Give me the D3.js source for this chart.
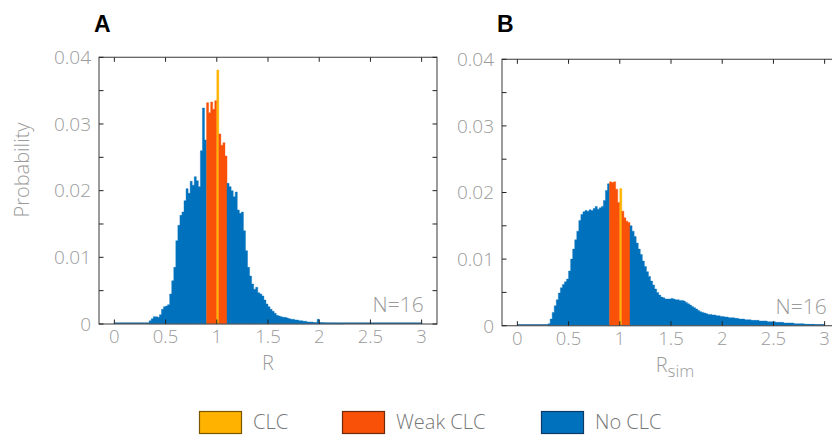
<!DOCTYPE html>
<html><head><meta charset="utf-8">
<script src="https://cdn.jsdelivr.net/npm/d3@7"></script>
<style>body{margin:0;background:#fff} svg{display:block}</style>
</head><body><svg id="c" width="832" height="435"></svg>
<script>
// ---------- data ----------
const binWidth = 0.02;
const startA = 0.34;
const probA = [
 .0005,.0008,.0011,.0011,.0010,.0014,.0022,.0026,.0027,.0029,
 .0045,.0065,.0085,.0125,.0148,.0163,.0168,.0185,.0203,.0196,
 .0214,.0208,.0221,.0215,.0206,.0260,.0324,.0276,.0332,.0317,
 .0333,.0322,.0335,.0381,.0285,.0268,.0272,.0252,.0211,.0206,
 .0200,.0191,.0198,.0171,.0166,.0168,.0140,.0110,.0085,.0072,
 .0060,.0052,.0055,.0047,.0045,.0042,.0036,.0030,.0026,.0022,
 .0019,.0016,.0013,.0012,.0011,.0010,.0010,.0009,.0008,.0007,
 .0007,.0006,.0006,.0005,.0005,.0004,.0004,.0003,.0003,.0003,
 .0002,.0002,.0007,.0002,.0002,.00015,.00015,.0001,.0001,.0001,
 .0001,.00008,.00008,.00005,.00005
];
const startB = 0.30;
const probB = [
 .0003,.0010,.0020,.0030,.0039,.0049,.0057,.0062,.0066,.0070,
 .0082,.0100,.0115,.0129,.0142,.0158,.0167,.0171,.0173,.0172,
 .0174,.0173,.0176,.0179,.0175,.0177,.0179,.0188,.0203,.0213,
 .0216,.0215,.0216,.0205,.0185,.0206,.0172,.0162,.0157,.0155,
 .0150,.0142,.0134,.0124,.0115,.0107,.0097,.0089,.0081,.0074,
 .0067,.0061,.0055,.0050,.0046,.0043,.0042,.0040,.0040,.0040,
 .0041,.0040,.0039,.0039,.0038,.0038,.0037,.0035,.0033,.0031,
 .0029,.0027,.0025,.0023,.0021,.0020,.0019,.0018,.0017,.0017,
 .0016,.0016,.0015,.0015,.0014,.0014,.0013,.0013,.0012,.0012,
 .0012,.0011,.0011,.0010,.0010,.0010,.0009,.0009,.0009,.0008,
 .0008,.0008,.0008,.0007,.0007,.0007,.0007,.0006,.0006,.0006,
 .0006,.0005,.0005,.0005,.0005,.0004,.0004,.0004,.0004,.0004,
 .0003,.0003,.0003,.0003,.0003,.0002,.0002,.0002,.0002,.0002,
 .0001,.0001,.0001,.0001,.0001
];
const weakRange = [0.90, 1.10];
const clcRange = [1.00, 1.02];
const categories = ["CLC", "Weak CLC", "No CLC"];
const colors = ["#FFB300", "#F95108", "#0072BD"];
const borders = ["#7a5600", "#6e2a0c", "#0d3a66"];
const xTicks = [0, 0.5, 1, 1.5, 2, 2.5, 3];
const xTickLabels = ["0", "0.5", "1", "1.5", "2", "2.5", "3"];
const yMinorTicks = [0, 0.005, 0.01, 0.015, 0.02, 0.025, 0.03, 0.035, 0.04];
const yTicks = [0, 0.01, 0.02, 0.03, 0.04];
const yTickLabels = ["0", "0.01", "0.02", "0.03", "0.04"];
const nLabel = "N=16";

// ---------- drawing ----------
const svg = d3.select("#c");
const FONT = "'Open Sans', Lato, 'Liberation Sans', sans-serif";
const GREY = "#9a9a9a";

function category(mid) {
  if (mid >= clcRange[0] && mid < clcRange[1]) return 0;
  if (mid >= weakRange[0] && mid < weakRange[1]) return 1;
  return 2;
}

function panel(opt) {
  const x = d3.scaleLinear().domain([-0.15, 3.15]).range([opt.left, opt.left + 338]);
  const y = d3.scaleLinear().domain([0, 0.04]).range([opt.bottom, opt.top]);
  const g = svg.append("g");
  const bins = opt.probs.map((p, i) => {
    const x0 = opt.start + i * binWidth;
    return {x0, x1: x0 + binWidth, p, c: category(x0 + binWidth / 2)};
  });
  const runs = [];
  bins.forEach(b => {
    const last = runs[runs.length - 1];
    if (last && last.c === b.c) last.bins.push(b); else runs.push({c: b.c, bins: [b]});
  });
  g.append("line").attr("x1", x(0)).attr("x2", x(3)).attr("y1", y(0) - 0.7).attr("y2", y(0) - 0.7)
    .attr("stroke", "#0a5d99").attr("stroke-width", 1.5);
  const area = d3.area().x(d => x(d[0])).y0(y(0)).y1(d => y(d[1]));
  runs.forEach(r => {
    const pts = [];
    r.bins.forEach(b => { pts.push([b.x0, b.p]); pts.push([b.x1, b.p]); });
    g.append("path").attr("d", area(pts)).attr("fill", colors[r.c])
      .attr("stroke", colors[r.c]).attr("stroke-width", 0.4);
  });
  const [xl, xr] = x.range(), [yb, yt] = y.range();
  g.append("rect").attr("x", xl).attr("y", yt).attr("width", xr - xl).attr("height", yb - yt)
    .attr("fill", "none").attr("stroke", "#5a5a5a").attr("stroke-width", 1.2);
  const tl = 4.5;
  xTicks.forEach((t, i) => {
    g.append("line").attr("x1", x(t)).attr("x2", x(t)).attr("y1", yb).attr("y2", yb - tl).attr("stroke", "#222");
    g.append("line").attr("x1", x(t)).attr("x2", x(t)).attr("y1", yt).attr("y2", yt + tl).attr("stroke", "#222");
    g.append("text").attr("x", x(t)).attr("y", yb + 19).attr("text-anchor", "middle")
      .attr("font-family", FONT).attr("font-weight", 300).attr("font-size", 18.5).attr("fill", GREY)
      .text(xTickLabels[i]);
  });
  yMinorTicks.forEach(t => {
    g.append("line").attr("x1", xl).attr("x2", xl + tl).attr("y1", y(t)).attr("y2", y(t)).attr("stroke", "#222");
    g.append("line").attr("x1", xr).attr("x2", xr - tl).attr("y1", y(t)).attr("y2", y(t)).attr("stroke", "#222");
  });
  yTicks.forEach((t, i) => {
    g.append("text").attr("x", xl - 8).attr("y", y(t)).attr("dy", "0.36em").attr("text-anchor", "end")
      .attr("font-family", FONT).attr("font-weight", 300).attr("font-size", 19).attr("fill", GREY)
      .text(yTickLabels[i]);
  });
  g.append("text").attr("x", x(3.02)).attr("y", yb - 12).attr("text-anchor", "end")
    .attr("font-family", FONT).attr("font-weight", 300).attr("font-size", 21).attr("fill", GREY)
    .text(nLabel);
  const xt = g.append("text").attr("x", (xl + xr) / 2 + (opt.sub ? 4 : 0)).attr("y", yb + 46).attr("text-anchor", "middle")
    .attr("font-family", FONT).attr("font-weight", 300).attr("font-size", 20).attr("fill", GREY);
  xt.append("tspan").text(opt.xlabel);
  if (opt.sub) xt.append("tspan").attr("dy", 5).attr("font-size", 17).text(opt.sub);
  g.append("text").attr("x", opt.letterX).attr("y", 32)
    .attr("font-family", "'Liberation Sans', Arial, sans-serif").attr("font-weight", "bold").attr("font-size", 23)
    .attr("fill", "#000").text(opt.letter);
  if (opt.ylabel) {
    g.append("text").attr("transform", `translate(29,170) rotate(-90)`).attr("text-anchor", "middle")
      .attr("font-family", FONT).attr("font-weight", 300).attr("font-size", 20).attr("fill", GREY)
      .text(opt.ylabel);
  }
}

panel({left: 99, top: 57.3, bottom: 324, probs: probA, start: startA, xlabel: "R", letter: "A", letterX: 94, ylabel: "Probability"});
panel({left: 502, top: 59.3, bottom: 325.7, probs: probB, start: startB, xlabel: "R", sub: "sim", letter: "B", letterX: 497});

const legX = [199, 342, 541];
categories.forEach((c, i) => {
  svg.append("rect").attr("x", legX[i] + 0.5).attr("y", 411.5).attr("width", 42).attr("height", 22)
    .attr("fill", colors[i]).attr("stroke", borders[i]).attr("stroke-width", 1.2);
  svg.append("text").attr("x", legX[i] + 54).attr("y", 429)
    .attr("font-family", FONT).attr("font-weight", 300).attr("font-size", 20).attr("fill", "#777")
    .text(c);
});
</script></body></html>
